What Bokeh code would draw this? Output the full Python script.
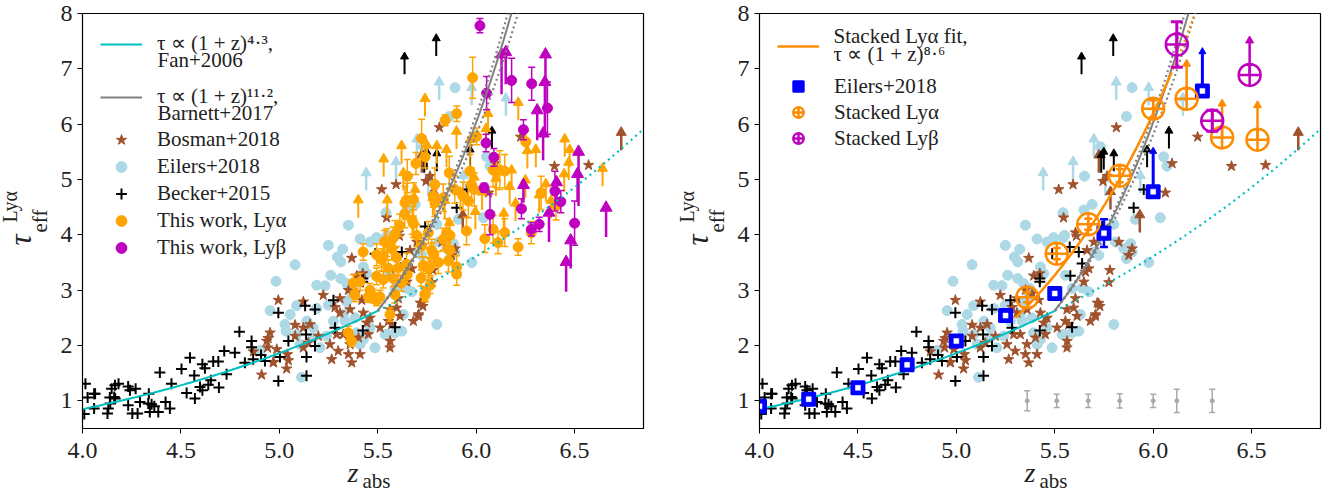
import numpy as np
from bokeh.plotting import figure
from bokeh.layouts import row
from bokeh.models import (Range1d, FixedTicker, PrintfTickFormatter, Label, Legend, LegendItem, Title)
from bokeh.embed import file_html
from bokeh.resources import INLINE

FONT = "Liberation Serif"
TXT = "#222222"

# ---------------- axes ----------------
x_ticks = [4.0, 4.5, 5.0, 5.5, 6.0, 6.5]
y_ticks = [1, 2, 3, 4, 5, 6, 7, 8]
x_lim = (4.0, 6.85)
y_lim = (0.5, 8.0)

# ---------------- Becker+2015 ----------------
becker_z = [4.015, 4.026, 4.059, 4.009, 4.059, 4.131, 4.127, 4.139, 4.148, 4.165, 4.161, 4.232, 4.241, 4.270,
            4.232, 4.253, 4.280, 4.292, 4.337, 4.334, 4.342, 4.351, 4.385, 4.365, 4.393, 4.422, 4.444, 4.452,
            4.503, 4.529, 4.546, 4.568, 4.571, 4.597, 4.609, 4.609, 4.622, 4.639, 4.652, 4.664, 4.690, 4.693,
            4.720, 4.732, 4.774, 4.797, 4.825, 4.859, 4.859, 4.867, 4.907, 4.927, 4.995, 4.995, 5.003,
            5.046, 5.131, 5.136, 5.138, 5.138, 5.181, 5.181, 5.275, 5.283, 5.424, 5.424, 5.424, 5.487, 5.576,
            5.579, 5.588, 5.622, 5.639, 5.741, 5.901, 5.952, 4.064, 4.141, 4.166, 4.183]
becker_tau = [1.31, 1.06, 1.13, 0.76, 0.86, 0.86, 0.77, 1.06, 1.22, 1.28, 1.07, 1.26, 1.19, 1.22,
              0.92, 0.77, 0.77, 0.98, 1.13, 0.95, 0.80, 0.94, 0.80, 0.90, 1.51, 0.98, 0.86, 1.31,
              1.575, 1.14, 1.78, 1.46, 1.04, 1.25, 1.19, 1.66, 1.59, 1.29, 1.37, 1.71, 1.71, 1.24,
              1.90, 1.48, 1.87, 2.25, 1.69, 2.08, 1.97, 1.75, 1.83, 1.72, 2.59, 1.36, 1.79,
              2.08, 2.72, 2.20, 1.79, 1.455, 2.65, 1.99, 2.82, 2.32, 3.21, 3.15, 2.27, 3.66, 3.78,
              3.26, 2.33, 3.69, 3.48, 4.15, 4.49, 4.82, 1.13, 0.95, 1.04, 1.31]
becker_lim_z = [5.636, 5.797, 5.736, 5.749, 5.800, 5.969, 6.080]
becker_lim_tau = [6.90, 7.23, 5.12, 5.18, 5.15, 5.22, 5.56]

# ---------------- Eilers+2018 ----------------
eilers_z = [5.351, 5.249, 5.322, 5.295, 5.312, 5.080, 4.983, 5.190, 5.232, 5.261, 5.312, 5.342, 5.410, 5.494,
            5.542, 5.542, 5.461, 5.427, 5.444, 5.373, 5.368, 5.342, 5.249, 5.190, 5.088, 5.055, 4.953, 5.029,
            5.034, 5.088, 5.105, 5.172, 5.172, 5.206, 5.240, 5.325, 5.384, 5.392, 5.410, 5.427, 5.461, 5.486,
            5.537, 5.588, 5.113, 5.334, 5.275, 5.140, 4.902, 5.893, 5.864, 5.651, 5.732, 5.690, 5.648, 5.550,
            5.699, 5.724, 5.809, 5.851, 5.864, 5.885, 5.893, 5.800, 5.910, 6.036, 6.053, 6.070, 5.978, 5.800,
            5.622, 5.546, 5.630, 5.673, 5.588, 5.639, 5.554]
eilers_tau = [4.175, 3.81, 3.74, 3.60, 3.51, 3.46, 3.16, 3.09, 3.08, 3.27, 3.21, 3.12, 3.925, 3.95,
              4.40, 3.95, 3.87, 3.42, 3.30, 3.03, 2.88, 2.79, 2.73, 2.67, 2.72, 2.56, 2.63, 2.38,
              2.26, 2.20, 2.02, 2.32, 2.14, 1.96, 2.17, 2.56, 2.50, 2.23, 2.02, 2.11, 2.32, 1.96,
              2.20, 2.23, 1.425, 2.44, 2.44, 2.44, 1.91, 6.66, 6.14, 5.06, 5.59, 4.55, 4.45, 3.99,
              3.69, 3.63, 3.87, 3.75, 3.57, 3.84, 3.69, 4.19, 4.28, 4.31, 5.41, 5.24, 3.50, 2.38,
              2.26, 2.20, 2.56, 2.97, 3.03, 3.04, 3.27]
eilers_lim_z = [5.441, 5.593, 5.699, 5.812, 5.977, 6.151, 5.757, 5.935]
eilers_lim_tau = [4.80, 5.00, 5.41, 6.44, 6.34, 6.15, 4.70, 4.75]

# ---------------- Bosman+2018 ----------------
bosman_z = [5.520, 5.545, 5.605, 5.368, 5.393, 5.424, 4.995, 5.122, 5.223, 5.308, 5.351, 5.385, 5.419, 5.283,
            5.308, 5.359, 5.080, 5.122, 5.156, 5.080, 4.953, 4.936, 4.940, 4.987, 5.041, 4.970, 5.046, 5.037,
            5.122, 5.147, 5.198, 5.291, 5.325, 5.257, 5.299, 5.359, 5.351, 5.410, 5.368, 5.266, 5.427, 5.444,
            5.402, 5.512, 5.554, 5.562, 5.596, 5.605, 5.613, 5.562, 5.452, 5.461, 4.868, 4.910, 4.969, 4.943,
            5.813, 5.593, 5.610, 5.664, 5.699, 5.656, 5.673, 5.648, 5.780, 5.826, 5.893, 5.876, 5.775, 5.707,
            5.729, 5.716, 5.571, 5.681, 5.563, 6.062, 6.096, 6.226, 5.766, 5.745, 6.398, 6.571, 5.706, 5.723]
bosman_tau = [4.82, 4.31, 4.04, 3.58, 3.26, 3.30, 2.82, 2.79, 2.91, 2.85, 3.00, 2.94, 2.82, 2.69,
              2.59, 2.65, 2.37, 2.32, 2.38, 2.17, 2.23, 2.08, 1.96, 1.93, 1.84, 1.70, 1.73, 1.58,
              1.96, 2.05, 2.17, 2.20, 2.20, 2.02, 1.90, 2.02, 1.84, 1.84, 1.69, 1.75, 2.59, 2.41,
              2.14, 2.32, 2.44, 2.65, 2.68, 2.85, 2.53, 1.96, 2.20, 2.50, 1.89, 1.47, 1.69, 2.13,
              5.94, 4.91, 3.98, 3.72, 3.87, 3.33, 3.39, 3.15, 3.36, 3.87, 3.75, 3.63, 3.14, 2.56,
              2.71, 2.77, 2.38, 2.44, 2.08, 4.76, 5.29, 5.77, 5.06, 4.97, 5.24, 5.26, 2.53, 2.76]
bosman_lim_z = [5.724, 5.932, 5.783, 6.737]
bosman_lim_tau = [5.12, 4.04, 4.46, 5.53]

# ---------------- This work, Ly-alpha ----------------
lya_z = [5.350, 5.367, 5.410, 5.426, 5.452, 5.469, 5.494, 5.511, 5.528, 5.545, 5.579, 5.587, 5.638, 5.562,
         5.587, 5.650, 5.646, 5.637, 5.675, 5.612, 5.578, 5.535, 5.570, 5.494, 5.520, 5.595, 5.553, 5.604,
         5.646, 5.620, 5.650, 5.528, 5.494, 5.376, 5.460, 5.477, 5.384, 5.741, 5.766, 5.757, 5.724, 5.808,
         5.859, 5.867, 5.960, 5.990, 5.982, 5.901, 5.842, 5.723, 5.694, 5.740, 6.002, 6.252, 5.863, 5.968,
         5.976, 6.120, 6.145, 6.103, 5.891, 5.933, 5.790, 5.833, 5.790, 5.782, 5.681, 5.681, 5.698, 5.757,
         5.850, 5.833, 5.774, 5.782, 5.867, 5.731, 5.765, 5.901, 5.901, 5.859, 5.739, 5.951, 6.044, 6.086,
         6.111, 6.145, 6.213, 6.330, 6.280, 6.406, 6.086, 5.720]
lya_tau = [2.23, 2.08, 3.15, 3.69, 2.88, 2.88, 2.82, 2.88, 3.62, 3.86, 3.21, 4.01, 4.58, 2.56,
           2.92, 5.06, 4.63, 4.38, 4.26, 4.17, 3.94, 3.88, 3.75, 3.64, 3.55, 3.59, 3.40, 3.40,
           3.47, 3.13, 3.28, 3.19, 3.25, 3.13, 3.00, 2.89, 2.91, 2.91, 3.09, 3.39, 3.80, 3.50,
           3.74, 3.99, 4.61, 4.82, 6.84, 6.19, 6.07, 5.74, 5.29, 5.41, 5.78, 5.68, 5.12, 5.15,
           4.91, 5.17, 5.15, 5.15, 4.82, 4.70, 4.91, 4.67, 4.58, 4.70, 4.64, 4.20, 3.99, 4.04,
           4.04, 3.92, 3.72, 3.66, 3.72, 3.45, 3.42, 3.42, 3.29, 3.53, 2.93, 4.07, 3.93, 4.10,
           3.86, 4.04, 3.78, 4.76, 4.04, 4.52, 5.17, 3.22]
lya_err = [0.12, 0.10, 0.15, 0.15, 0.10, 0.10, 0.10, 0.12, 0.20, 0.25, 0.15, 0.25, 0.30, 0.12,
           0.15, 0.30, 0.30, 0.25, 0.25, 0.20, 0.20, 0.20, 0.20, 0.20, 0.20, 0.20, 0.15, 0.15,
           0.20, 0.15, 0.15, 0.15, 0.15, 0.15, 0.12, 0.12, 0.12, 0.12, 0.15, 0.20, 0.20, 0.20,
           0.20, 0.25, 0.30, 0.30, 0.37, 0.14, 0.10, 0.35, 0.20, 0.20, 0.15, 0.20, 0.30, 0.30,
           0.30, 0.35, 0.30, 0.30, 0.25, 0.25, 0.30, 0.25, 0.25, 0.20, 0.30, 0.25, 0.20, 0.20,
           0.25, 0.20, 0.20, 0.20, 0.20, 0.15, 0.15, 0.20, 0.20, 0.20, 0.12, 0.25, 0.25, 0.25,
           0.20, 0.25, 0.15, 0.30, 0.20, 0.25, 0.30, 0.15]
lya_lim_z = [5.401, 5.548, 5.621, 5.740, 5.800, 5.849, 5.970, 6.060, 6.214, 6.450, 6.475, 6.642, 6.470,
             6.447, 6.354, 6.303, 6.260, 6.250, 6.180, 6.170, 6.140, 6.100, 5.996, 5.990, 5.864, 5.840,
             5.750, 5.630, 5.690, 5.780, 5.920, 6.030, 6.200, 6.320, 6.380, 5.530, 5.900, 6.050]
lya_lim_tau = [4.31, 4.31, 5.29, 6.14, 5.29, 5.22, 5.40, 5.87, 6.07, 5.41, 5.22, 4.88, 4.99,
               4.78, 4.60, 5.22, 5.20, 4.67, 4.85, 4.55, 4.07, 4.70, 4.10, 4.72, 3.90, 4.30,
               5.30, 4.80, 4.50, 4.35, 4.45, 4.45, 4.25, 4.40, 4.30, 5.05, 5.55, 5.60]

# ---------------- This work, Ly-beta ----------------
lyb_z = [6.019, 6.053, 6.180, 6.282, 6.362, 6.240, 6.050, 6.090, 6.040, 6.070, 6.230, 6.280, 6.320, 6.400,
         6.430, 6.500]
lyb_tau = [7.78, 6.56, 6.79, 6.73, 6.29, 5.90, 5.66, 5.40, 4.85, 4.37, 4.47, 4.10, 4.19, 4.79, 4.60, 4.21]
lyb_err = [0.13, 0.30, 0.40, 0.30, 0.47, 0.18, 0.16, 0.16, 0.08, 0.37, 0.18, 0.12, 0.13, 0.36, 0.20, 0.40]
lyb_lim_z = [6.129, 6.150, 6.352, 6.349, 6.310, 6.340, 6.240, 6.520, 6.515, 6.370, 6.660, 6.480, 6.457, 6.408]
lyb_lim_tau = [6.54, 6.72, 6.31, 5.83, 5.71, 5.35, 4.58, 4.52, 4.60, 3.87, 3.96, 3.39, 2.97, 4.58]
lyb_lim_top = [7.26, 7.30, 7.26, 6.76, 6.25, 5.83, 4.90, 5.50, 5.10, 4.40, 4.49, 3.90, 3.51, 4.95]

# ---------------- right panel: binned / stacked ----------------
ebin_z = [4.00, 4.25, 4.50, 4.75, 5.00, 5.25, 5.50, 5.75, 6.00, 6.25]
ebin_tau = [0.90, 1.03, 1.235, 1.65, 2.08, 2.54, 2.94, 4.03, 4.78, 6.60]
ebin_err = [0.05, 0.05, 0.05, 0.06, 0.08, 0.08, 0.10, 0.25, 0.0, 0.0]
ebin_lim_z = [6.00, 6.25]
ebin_lim_tau = [4.78, 6.60]
ebin_lim_top = [5.51, 7.31]

sa_z = [5.36, 5.51, 5.67, 5.83, 6.00]
sa_tau = [2.87, 3.66, 4.19, 5.07, 6.28]
sa_err = [0.09, 0.10, 0.10, 0.12, 0.15]
sa_lim_z = [6.17, 6.35, 6.53]
sa_lim_tau = [6.46, 5.76, 5.72]
sa_lim_top = [7.09, 6.37, 6.34]

sb_z = [6.12, 6.30]
sb_tau = [7.44, 6.06]
sb_err = [0.41, 0.19]
sb_lim_z = [6.49]
sb_lim_tau = [6.89]
sb_lim_top = [7.51]

sample_z = [5.36, 5.51, 5.67, 5.83, 6.00, 6.12, 6.30]
sample_tau = [1.0, 1.0, 1.0, 1.0, 1.0, 1.0, 1.0]
sample_err = [0.18, 0.12, 0.12, 0.13, 0.12, 0.21, 0.21]

# ---------------- model curves ----------------
fan_norm, fan_pivot, fan_exp = 0.85, 5.0, 4.3
barnett_norm, barnett_pivot, barnett_exp = 2.63, 6.5, 11.2
barnett_band_exp = [11.5, 10.7]
stack_norm, stack_pivot, stack_exp = 2.50, 6.3, 8.6

C_CYAN = "#00bfbf"
C_GREY = "#808080"
C_BLUE_L = "#add8e6"
C_SIENNA = "#a0522d"
C_ORANGE = "#ffa500"
C_MAG = "#bf00bf"
C_DORANGE = "#ff8c00"
C_BLUE = "#0000ff"
C_DGREY = "#a9a9a9"

ARROW_LEN = 0.32
LEG_FONT = "21px"

# layout (pixels)
FRAME_W, FRAME_H = 561, 415
B_LEFT, B_TOP, B_BOTTOM = 82, 13, 65
FRAME_BOTTOM = B_TOP + FRAME_H  # 428


def arr(a):
    return np.asarray(a, dtype=float)


def base_fig(right_border):
    p = figure(frame_width=FRAME_W, frame_height=FRAME_H, x_range=Range1d(*x_lim), y_range=Range1d(*y_lim),
               output_backend="svg", toolbar_location=None,
               min_border_left=B_LEFT, min_border_right=right_border, min_border_top=B_TOP,
               min_border_bottom=B_BOTTOM)
    p.xgrid.visible = False
    p.ygrid.visible = False
    p.outline_line_color = "black"
    p.outline_line_width = 1.2
    p.background_fill_color = "white"
    p.border_fill_color = "white"
    for ax, ticks, fmt, stand in ((p.xaxis[0], x_ticks, "%.1f", 9), (p.yaxis[0], y_ticks, "%d", 5)):
        ax.ticker = FixedTicker(ticks=ticks)
        ax.formatter = PrintfTickFormatter(format=fmt)
        ax.major_tick_out = 5
        ax.major_tick_in = 0
        ax.minor_tick_out = 0
        ax.minor_tick_in = 0
        ax.major_tick_line_color = "black"
        ax.axis_line_color = "black"
        ax.major_label_text_font = FONT
        ax.major_label_text_font_size = "24px"
        ax.major_label_text_color = TXT
        ax.major_label_standoff = stand
    # y label: tau_eff^{Ly alpha}
    yax = p.yaxis[0]
    yax.axis_label = "eff"
    yax.axis_label_text_font = FONT
    yax.axis_label_text_font_size = "21px"
    yax.axis_label_text_font_style = "normal"
    yax.axis_label_text_color = TXT
    yax.axis_label_standoff = 6
    p.add_layout(Title(text="τ", align="left", offset=183, standoff=-27, vertical_align="bottom",
                       text_font=FONT, text_font_size="31px", text_font_style="italic",
                       text_color=TXT), "left")
    p.add_layout(Title(text="Lyα", align="left", offset=206, standoff=-12, vertical_align="bottom",
                       text_font=FONT, text_font_size="20px", text_font_style="normal",
                       text_color=TXT), "left")
    # x label: z_abs
    p.add_layout(Title(text="z", align="left", offset=265, standoff=-12, vertical_align="bottom",
                       text_font=FONT, text_font_size="28px", text_font_style="italic",
                       text_color=TXT), "below")
    p.add_layout(Title(text="abs", align="left", offset=280, standoff=-25, vertical_align="top",
                       text_font=FONT, text_font_size="21px", text_font_style="normal",
                       text_color=TXT), "below")
    return p


def text_label(p, px, py, frame_left, text):
    p.add_layout(Label(x=px - frame_left, y=FRAME_BOTTOM - py, x_units="screen", y_units="screen",
                       text=text, text_font=FONT, text_font_size=LEG_FONT, text_color=TXT,
                       text_align="left", text_baseline="middle"))


def errbars(p, z, y, e, color, lw, cap, alpha=1.0):
    z, y, e = arr(z), arr(y), arr(e)
    p.segment(z, y - e, z, y + e, line_color=color, line_width=lw, line_alpha=alpha)
    p.scatter(np.concatenate([z, z]), np.concatenate([y - e, y + e]), marker="dash", size=cap,
              line_color=color, line_width=lw, line_alpha=alpha)


def arrows(p, z, lo, hi, color, lw, head):
    z, lo, hi = arr(z), arr(lo), arr(hi)
    p.segment(z, lo, z, hi, line_color=color, line_width=lw)
    p.scatter(z, hi, marker="triangle", size=head, line_color=color, fill_color=color)


def background(p):
    r_e = p.scatter(eilers_z, eilers_tau, marker="circle", size=10, fill_color=C_BLUE_L, line_color=C_BLUE_L)
    arrows(p, eilers_lim_z, eilers_lim_tau, arr(eilers_lim_tau) + ARROW_LEN, C_BLUE_L, 2.5, 10)
    r_s = p.scatter(bosman_z, bosman_tau, marker="star", size=11, fill_color=C_SIENNA, line_color=C_SIENNA)
    arrows(p, bosman_lim_z, bosman_lim_tau, arr(bosman_lim_tau) + ARROW_LEN, C_SIENNA, 2.5, 10)
    r_b = p.scatter(becker_z, becker_tau, marker="cross", size=11, line_color="black", line_width=2)
    arrows(p, becker_lim_z, becker_lim_tau, arr(becker_lim_tau) + ARROW_LEN, "black", 2, 8)
    return r_e, r_s, r_b


def curves(p):
    z1 = np.linspace(4.0, 5.5, 80)
    r_fan = p.line(z1, fan_norm * ((1 + z1) / fan_pivot) ** fan_exp, line_color=C_CYAN, line_width=2)
    z2 = np.linspace(5.5, 6.85, 80)
    p.line(z2, fan_norm * ((1 + z2) / fan_pivot) ** fan_exp, line_color=C_CYAN, line_width=2.2,
           line_dash="2 4")
    z3 = np.linspace(5.5, 6.3, 120)
    for ex in barnett_band_exp:
        p.line(z3, barnett_norm * ((1 + z3) / barnett_pivot) ** ex, line_color=C_GREY, line_width=2.2,
               line_dash="2 3")
    r_bar = p.line(z3, barnett_norm * ((1 + z3) / barnett_pivot) ** barnett_exp, line_color=C_GREY,
                   line_width=2)
    return r_fan, r_bar


def make_legend(p, items, top_py, h):
    n = len(items)
    lg = Legend(items=items, location=(18, FRAME_BOTTOM - (top_py + n * h)), padding=0, margin=0, spacing=0,
                label_height=h, glyph_height=h, glyph_width=42, label_standoff=15,
                label_text_font=FONT, label_text_font_size=LEG_FONT, label_text_color=TXT,
                border_line_alpha=0, background_fill_alpha=0)
    p.add_layout(lg)
    return lg


# ================= LEFT PANEL =================
p1 = base_fig(34)
r_e, r_s, r_b = background(p1)

r_lya = p1.scatter(lya_z, lya_tau, marker="circle", size=10, fill_color=C_ORANGE, line_color=C_ORANGE)
errbars(p1, lya_z, lya_tau, lya_err, C_ORANGE, 1.5, 7)
arrows(p1, lya_lim_z, lya_lim_tau, arr(lya_lim_tau) + ARROW_LEN, C_ORANGE, 2, 10)

errbars(p1, lyb_z, lyb_tau, lyb_err, C_MAG, 1.5, 7)
r_lyb = p1.scatter(lyb_z, lyb_tau, marker="circle", size=10, fill_color=C_MAG, line_color=C_MAG)
arrows(p1, lyb_lim_z, lyb_lim_tau, lyb_lim_top, C_MAG, 2.5, 12)

r_fan1, r_bar1 = curves(p1)

L1 = 82  # frame left (page px)
make_legend(p1, [LegendItem(label="τ ∝ (1 + z)⁴·³,", renderers=[r_fan1])], 32, 24)
text_label(p1, 157, 59, L1, "Fan+2006")
make_legend(p1, [LegendItem(label="τ ∝ (1 + z)¹¹·²,", renderers=[r_bar1])], 85, 24)
text_label(p1, 157, 112, L1, "Barnett+2017")
make_legend(p1, [LegendItem(label="Bosman+2018", renderers=[r_s]),
                 LegendItem(label="Eilers+2018", renderers=[r_e]),
                 LegendItem(label="Becker+2015", renderers=[r_b]),
                 LegendItem(label="This work, Lyα", renderers=[r_lya]),
                 LegendItem(label="This work, Lyβ", renderers=[r_lyb])], 126, 27)

# ================= RIGHT PANEL =================
p2 = base_fig(8)
r_e2, r_s2, r_b2 = background(p2)
r_fan2, r_bar2 = curves(p2)

z4 = np.linspace(5.3, 6.09, 80)
r_fit = p2.line(z4, stack_norm * ((1 + z4) / stack_pivot) ** stack_exp, line_color=C_DORANGE, line_width=2.5)
z5 = np.linspace(6.09, 6.3, 30)
p2.line(z5, stack_norm * ((1 + z5) / stack_pivot) ** stack_exp, line_color=C_DORANGE, line_width=2.2,
        line_dash="2 3")

errbars(p2, sample_z, sample_tau, sample_err, C_DGREY, 1.5, 6)
p2.scatter(sample_z, sample_tau, marker="circle", size=4, fill_color=C_DGREY, line_color=C_DGREY)

arrows(p2, ebin_lim_z, ebin_lim_tau, ebin_lim_top, C_BLUE, 3, 7)
errbars(p2, ebin_z, ebin_tau, ebin_err, C_BLUE, 2.5, 8)
r_ebin = p2.scatter(ebin_z, ebin_tau, marker="square", size=13, fill_color=C_BLUE,
                    line_color=C_BLUE, line_width=2)
p2.scatter(ebin_z, ebin_tau, marker="square", size=5, fill_color="white", line_color="white", line_width=0.5)

arrows(p2, sa_lim_z, sa_lim_tau, sa_lim_top, C_DORANGE, 2.5, 8)
errbars(p2, sa_z, sa_tau, sa_err, C_DORANGE, 2.5, 8)
r_sa = p2.scatter(sa_z + sa_lim_z, sa_tau + sa_lim_tau, marker="circle_cross", size=22, fill_alpha=0,
                  line_color=C_DORANGE, line_width=2.5)

arrows(p2, sb_lim_z, sb_lim_tau, sb_lim_top, C_MAG, 2.5, 8)
errbars(p2, sb_z, sb_tau, sb_err, C_MAG, 3, 12)
r_sb = p2.scatter(sb_z + sb_lim_z, sb_tau + sb_lim_tau, marker="circle_cross", size=22, fill_alpha=0,
                  line_color=C_MAG, line_width=2.5)

L2 = 759  # frame left (page px)
make_legend(p2, [LegendItem(label=" ", renderers=[r_fit])], 34, 24)
text_label(p2, 833, 35, L2, "Stacked Lyα fit,")
text_label(p2, 833, 53, L2, "τ ∝ (1 + z)⁸·⁶")
make_legend(p2, [LegendItem(label="Eilers+2018", renderers=[r_ebin]),
                 LegendItem(label="Stacked Lyα", renderers=[r_sa]),
                 LegendItem(label="Stacked Lyβ", renderers=[r_sb])], 73, 26)

layout = row(p1, p2)
open("out.html", "w").write(file_html(layout, INLINE))
